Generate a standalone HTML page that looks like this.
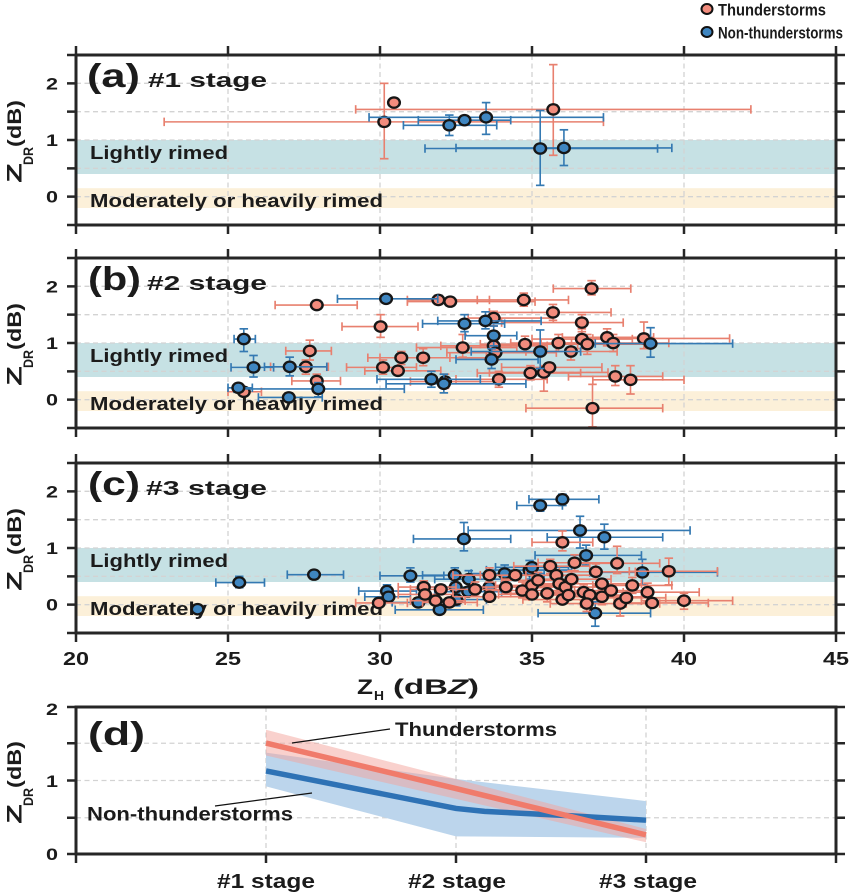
<!DOCTYPE html>
<html><head><meta charset="utf-8"><style>
html,body{margin:0;padding:0;background:#fff;}
svg{display:block;}
.t{font-family:"Liberation Sans",Arial,Helvetica,sans-serif;font-weight:bold;fill:#1b1b1b;}
.es{fill:none;stroke:#e8806f;stroke-width:1.6;}
.eb{fill:none;stroke:#3479b2;stroke-width:1.6;}
</style></head><body>
<svg width="850" height="896" viewBox="0 0 850 896" xmlns="http://www.w3.org/2000/svg">
<defs>
 <g id="bands">
  <rect x="76" y="85" width="760" height="34" fill="#c6e1e4"/>
  <rect x="76" y="133.2" width="760" height="19.8" fill="#fcf0d9"/>
 </g>
 <g id="grid" stroke="#d3d3d3" stroke-width="1.3" stroke-dasharray="5 3.5" fill="none">
  <path d="M76 28.33H836M76 56.67H836M76 85H836M76 113.33H836M76 141.67H836M228 0V170M380 0V170M532 0V170M684 0V170"/>
 </g>
 <g id="frame" fill="none" stroke="#262626">
  <rect x="76" y="0" width="760" height="170" stroke-width="3"/>
  <path stroke-width="2.5" d="M76 -9V0M228 -9V0M380 -9V0M532 -9V0M684 -9V0M836 -9V0M76 170V179M228 170V179M380 170V179M532 170V179M684 170V179M836 170V179M67 0H76M67 28.33H76M67 56.67H76M67 85H76M67 113.33H76M67 141.67H76M67 170H76M836 0H845M836 28.33H845M836 56.67H845M836 85H845M836 113.33H845M836 141.67H845M836 170H845"/>
 </g>
 <g id="ds"><ellipse rx="0.232" ry="0.111" fill="#161616"/><ellipse rx="0.152" ry="0.071" fill="#f28c7d"/></g>
 <g id="db"><ellipse rx="0.232" ry="0.111" fill="#161616"/><ellipse rx="0.152" ry="0.071" fill="#3f86c1"/></g>
 <marker id="cvs" markerUnits="userSpaceOnUse" orient="0" refX="0" refY="0" style="overflow:visible"><path d="M0 -0.075V0.075" stroke="#e8806f" stroke-width="0.055" fill="none"/></marker>
 <marker id="chs" markerUnits="userSpaceOnUse" orient="0" refX="0" refY="0" style="overflow:visible"><path d="M-0.14 0H0.14" stroke="#e8806f" stroke-width="0.03" fill="none"/></marker>
 <marker id="cvb" markerUnits="userSpaceOnUse" orient="0" refX="0" refY="0" style="overflow:visible"><path d="M0 -0.075V0.075" stroke="#3479b2" stroke-width="0.055" fill="none"/></marker>
 <marker id="chb" markerUnits="userSpaceOnUse" orient="0" refX="0" refY="0" style="overflow:visible"><path d="M-0.14 0H0.14" stroke="#3479b2" stroke-width="0.03" fill="none"/></marker>
</defs>

<!-- Legend -->
<ellipse cx="707" cy="9" rx="5.5" ry="5" fill="#f28c7d" stroke="#111" stroke-width="2"/>
<ellipse cx="707" cy="32" rx="5.5" ry="5" fill="#3f86c1" stroke="#111" stroke-width="2"/>
<text class="t" x="718" y="15.5" font-size="17" textLength="108" lengthAdjust="spacingAndGlyphs">Thunderstorms</text>
<text class="t" x="718" y="38.5" font-size="17" textLength="125" lengthAdjust="spacingAndGlyphs">Non-thunderstorms</text>

<!-- ================= Panel A ================= -->
<g transform="translate(0,55)"><use href="#bands"/><use href="#grid"/></g>
<text class="t" x="90" y="159" font-size="18" textLength="138" lengthAdjust="spacingAndGlyphs">Lightly rimed</text>
<text class="t" x="90" y="207" font-size="18" textLength="293" lengthAdjust="spacingAndGlyphs">Moderately or heavily rimed</text>
<g transform="matrix(30.4 0 0 -56.67 -532 196.675)">
 <path class="es" vector-effect="non-scaling-stroke" marker-start="url(#cvs)" marker-mid="url(#cvs)" marker-end="url(#cvs)" d="M22.9 1.32H37.35M29.2 1.54H42.2"/>
 <path class="es" vector-effect="non-scaling-stroke" marker-start="url(#chs)" marker-mid="url(#chs)" marker-end="url(#chs)" d="M30.14 0.67V2M35.7 0.73V2.33"/>
 <use href="#ds" x="30.14" y="1.32"/><use href="#ds" x="30.46" y="1.66"/><use href="#ds" x="35.7" y="1.54"/>
 <path class="eb" vector-effect="non-scaling-stroke" marker-start="url(#cvb)" marker-mid="url(#cvb)" marker-end="url(#cvb)" d="M30.77 1.26H33.84M31.26 1.35H34.3M29.64 1.4H37.35M31.48 0.85H39.13M32.5 0.86H39.6"/>
 <path class="eb" vector-effect="non-scaling-stroke" marker-start="url(#chb)" marker-mid="url(#chb)" marker-end="url(#chb)" d="M32.28 1.08V1.44M33.49 1.1V1.66M35.27 0.2V1.52M36.05 0.55V1.18"/>
 <use href="#db" x="32.28" y="1.26"/><use href="#db" x="32.78" y="1.35"/><use href="#db" x="33.49" y="1.4"/><use href="#db" x="35.27" y="0.85"/><use href="#db" x="36.05" y="0.86"/>
</g>
<g transform="translate(0,55)"><use href="#frame"/></g>
<text class="t" x="87" y="87" font-size="33" textLength="53" lengthAdjust="spacingAndGlyphs">(a)</text>
<text class="t" x="148" y="87" font-size="20" textLength="119" lengthAdjust="spacingAndGlyphs">#1 stage</text>
<text class="t" x="52" y="89.5" font-size="17" text-anchor="middle" textLength="12" lengthAdjust="spacingAndGlyphs">2</text>
<text class="t" x="52" y="146" font-size="17" text-anchor="middle" textLength="12" lengthAdjust="spacingAndGlyphs">1</text>
<text class="t" x="52" y="202.7" font-size="17" text-anchor="middle" textLength="12" lengthAdjust="spacingAndGlyphs">0</text>
<text class="t" transform="translate(21.7,183) rotate(-90)" font-size="21" textLength="20" lengthAdjust="spacingAndGlyphs">Z</text>
<text class="t" transform="translate(33,165) rotate(-90)" font-size="14" textLength="18" lengthAdjust="spacingAndGlyphs">DR</text>
<text class="t" transform="translate(21,147) rotate(-90)" font-size="19" textLength="47" lengthAdjust="spacingAndGlyphs">(dB)</text>

<!-- ================= Panel B ================= -->
<g transform="translate(0,258)"><use href="#bands"/><use href="#grid"/></g>
<text class="t" x="90" y="362" font-size="18" textLength="138" lengthAdjust="spacingAndGlyphs">Lightly rimed</text>
<text class="t" x="90" y="410" font-size="18" textLength="293" lengthAdjust="spacingAndGlyphs">Moderately or heavily rimed</text>
<g transform="matrix(30.4 0 0 -56.67 -532 399.675)">
 <path class="es" vector-effect="non-scaling-stroke" marker-start="url(#cvs)" marker-mid="url(#cvs)" marker-end="url(#cvs)" d="M26.55 1.67H29.25M28.75 1.29H31.25M30.9 1.76H33.6M30.9 1.73H35.1M33.2 1.76H36.2M35.7 1.96H38.25M33.6 1.54H37.6M34 1.36H38M32.9 1.44H35.7M26.9 0.86H28.4M26.4 0.58H28.3M27.1 0.33H28.7M25 0.14H26.1M28.9 0.57H31.2M29.5 0.51H32M29.6 0.74H32.3M30 0.74H33.5M31.2 0.92H34.5M31 0.32H33.8M32 0.95H35.5M32.2 0.83H35.8M32.5 0.36H35.5M33.3 0.98H36.5M33.2 0.47H36.6M33.6 0.48H37.5M34 0.57H37.3M34.3 1H37.5M34.8 0.85H37.8M35 1.07H38.3M35.3 0.98H38.7M36 1.1H39M36.3 1H39.5M37 1.08H41.5M36.2 0.41H39.3M37 0.35H40M34.8 -0.15H39.3"/>
 <path class="es" vector-effect="non-scaling-stroke" marker-start="url(#chs)" marker-mid="url(#chs)" marker-end="url(#chs)" d="M27.92 1.6V1.75M30.02 1.1V1.5M31.92 1.68V1.84M34.73 1.65V1.88M36.96 1.85V2.1M35.69 1.4V1.68M36.64 1.2V1.5M33.74 1.3V1.56M27.69 0.7V1.05M27.56 0.45V0.7M27.92 0.2V0.45M30.1 0.45V0.7M30.7 0.62V0.85M31.42 0.6V0.9M32.72 0.75V1.15M32.14 0.2V0.45M33.74 0.8V1.1M33.8 0.7V0.95M33.91 0.22V0.5M34.77 0.85V1.12M34.95 0.35V0.6M35.39 0.15V0.6M35.87 0.85V1.15M36.28 0.7V1M36.64 0.9V1.25M36.82 0.8V1.15M37.47 0.95V1.25M37.67 0.85V1.15M38.68 0.9V1.37M37.74 0.25V0.6M38.24 0.1V0.6M36.99 -0.48V0.27"/>
 <use href="#ds" x="27.92" y="1.67"/><use href="#ds" x="30.02" y="1.29"/><use href="#ds" x="31.92" y="1.76"/><use href="#ds" x="32.31" y="1.73"/><use href="#ds" x="34.73" y="1.76"/><use href="#ds" x="36.96" y="1.96"/><use href="#ds" x="35.69" y="1.54"/><use href="#ds" x="36.64" y="1.36"/><use href="#ds" x="33.74" y="1.44"/><use href="#ds" x="27.69" y="0.86"/><use href="#ds" x="27.56" y="0.58"/><use href="#ds" x="27.92" y="0.33"/><use href="#ds" x="25.52" y="0.14"/><use href="#ds" x="30.1" y="0.57"/><use href="#ds" x="30.59" y="0.51"/><use href="#ds" x="30.7" y="0.74"/><use href="#ds" x="31.42" y="0.74"/><use href="#ds" x="32.72" y="0.92"/><use href="#ds" x="32.14" y="0.32"/><use href="#ds" x="33.74" y="0.95"/><use href="#ds" x="33.8" y="0.83"/><use href="#ds" x="33.91" y="0.36"/><use href="#ds" x="34.77" y="0.98"/><use href="#ds" x="34.95" y="0.47"/><use href="#ds" x="35.39" y="0.48"/><use href="#ds" x="35.57" y="0.57"/><use href="#ds" x="35.87" y="1"/><use href="#ds" x="36.28" y="0.85"/><use href="#ds" x="36.64" y="1.07"/><use href="#ds" x="36.82" y="0.98"/><use href="#ds" x="37.47" y="1.1"/><use href="#ds" x="37.67" y="1"/><use href="#ds" x="38.68" y="1.08"/><use href="#ds" x="37.74" y="0.41"/><use href="#ds" x="38.24" y="0.35"/><use href="#ds" x="36.99" y="-0.15"/>
 <path class="eb" vector-effect="non-scaling-stroke" marker-start="url(#cvb)" marker-mid="url(#cvb)" marker-end="url(#cvb)" d="M25.2 1.07H25.9M25.1 0.57H26.5M26.2 0.58H28.25M25 0.21H25.8M26 0.04H28.1M25.2 0.19H30.8M28.6 1.78H31.9M31.4 1.34H34.1M31.9 1.39H35.3M32.8 1.13H34.5M32.5 0.71H35.2M29.9 0.36H33.3M30.2 0.28H34.8M33 0.85H36.6M37.08 0.99H41.6"/>
 <path class="eb" vector-effect="non-scaling-stroke" marker-start="url(#chb)" marker-mid="url(#chb)" marker-end="url(#chb)" d="M25.52 0.85V1.25M25.84 0.4V0.78M27.03 0.42V0.75M27.97 0.05V0.3M32.78 1.2V1.5M33.47 1.25V1.55M33.74 0.95V1.3M33.67 0.55V0.9M31.69 0.22V0.5M32.1 0.12V0.45M35.27 0.55V1.23M38.9 0.75V1.27"/>
 <use href="#db" x="25.52" y="1.07"/><use href="#db" x="25.84" y="0.57"/><use href="#db" x="27.03" y="0.58"/><use href="#db" x="25.34" y="0.21"/><use href="#db" x="27" y="0.04"/><use href="#db" x="27.97" y="0.19"/><use href="#db" x="30.2" y="1.78"/><use href="#db" x="32.78" y="1.34"/><use href="#db" x="33.47" y="1.39"/><use href="#db" x="33.74" y="1.13"/><use href="#db" x="33.67" y="0.71"/><use href="#db" x="31.69" y="0.36"/><use href="#db" x="32.1" y="0.28"/><use href="#db" x="35.27" y="0.85"/><use href="#db" x="38.9" y="0.99"/>
</g>
<g transform="translate(0,258)"><use href="#frame"/></g>
<text class="t" x="88" y="290" font-size="33" textLength="53" lengthAdjust="spacingAndGlyphs">(b)</text>
<text class="t" x="147" y="290" font-size="20" textLength="120" lengthAdjust="spacingAndGlyphs">#2 stage</text>
<text class="t" x="52" y="292.5" font-size="17" text-anchor="middle" textLength="12" lengthAdjust="spacingAndGlyphs">2</text>
<text class="t" x="52" y="349" font-size="17" text-anchor="middle" textLength="12" lengthAdjust="spacingAndGlyphs">1</text>
<text class="t" x="52" y="405.7" font-size="17" text-anchor="middle" textLength="12" lengthAdjust="spacingAndGlyphs">0</text>
<text class="t" transform="translate(21.7,386) rotate(-90)" font-size="21" textLength="20" lengthAdjust="spacingAndGlyphs">Z</text>
<text class="t" transform="translate(33,368) rotate(-90)" font-size="14" textLength="18" lengthAdjust="spacingAndGlyphs">DR</text>
<text class="t" transform="translate(21,350) rotate(-90)" font-size="19" textLength="47" lengthAdjust="spacingAndGlyphs">(dB)</text>

<!-- ================= Panel C ================= -->
<g transform="translate(0,463)"><use href="#bands"/><use href="#grid"/></g>
<text class="t" x="90" y="567" font-size="18" textLength="138" lengthAdjust="spacingAndGlyphs">Lightly rimed</text>
<text class="t" x="90" y="615" font-size="18" textLength="293" lengthAdjust="spacingAndGlyphs">Moderately or heavily rimed</text>
<g transform="matrix(30.4 0 0 -56.67 -532 604.675)">
 <path class="eb" vector-effect="non-scaling-stroke" marker-start="url(#cvb)" marker-mid="url(#cvb)" marker-end="url(#cvb)" d="M24.6 0.39H26.2M26.95 0.53H28.8M30 0.51H32.1M29.3 0.24H31.2M29.5 0.14H31M30.4 0.04H32.2M30.5 -0.09H33.4M31.1 1.16H34.3M31.4 0.52H33.6M31.5 0.31H33.5M31.5 0.09H33.5M31.8 0.45H34M31.8 0.23H34M32.5 0.31H34.8M33 0.55H35.4M33.5 0.61H36.3M33.8 0.66H36.2M34.5 1.75H36M34.9 1.86H37.2M32.9 1.31H40.2M35.5 1.19H39.3M35.1 0.87H38.6M36.9 0.57H41.1M35.2 -0.15H38.9"/>
 <path class="eb" vector-effect="non-scaling-stroke" marker-start="url(#chb)" marker-mid="url(#chb)" marker-end="url(#chb)" d="M25.37 0.3V0.5M27.83 0.45V0.6M31 0.4V0.65M30.23 0.1V0.35M32.76 0.95V1.45M32.46 0.4V0.65M32.51 -0.02V0.2M32.92 0.3V0.6M33.6 0.18V0.45M34.1 0.4V0.7M34.92 0.45V0.78M35.27 1.65V1.85M36 1.75V1.95M36.58 1V1.56M37.38 0.98V1.42M36.78 0.7V1.05M38.63 0.35V0.8M37.08 -0.38V0.05"/>
 <use href="#db" x="24" y="-0.08"/><use href="#db" x="25.37" y="0.39"/><use href="#db" x="27.83" y="0.53"/><use href="#db" x="31" y="0.51"/><use href="#db" x="30.23" y="0.24"/><use href="#db" x="30.28" y="0.14"/><use href="#db" x="31.26" y="0.04"/><use href="#db" x="31.96" y="-0.09"/><use href="#db" x="32.76" y="1.16"/><use href="#db" x="32.46" y="0.52"/><use href="#db" x="32.49" y="0.31"/><use href="#db" x="32.51" y="0.09"/><use href="#db" x="32.92" y="0.45"/><use href="#db" x="32.9" y="0.23"/><use href="#db" x="33.6" y="0.31"/><use href="#db" x="34.1" y="0.55"/><use href="#db" x="34.92" y="0.61"/><use href="#db" x="35" y="0.66"/><use href="#db" x="35.27" y="1.75"/><use href="#db" x="36" y="1.86"/><use href="#db" x="36.58" y="1.31"/><use href="#db" x="37.38" y="1.19"/><use href="#db" x="36.78" y="0.87"/><use href="#db" x="38.63" y="0.57"/><use href="#db" x="37.08" y="-0.15"/>
 <path class="es" vector-effect="non-scaling-stroke" marker-start="url(#cvs)" marker-mid="url(#cvs)" marker-end="url(#cvs)" d="M29.2 0.03H30.9M30.6 0.31H32.5M30.6 0.18H32.4M31 0.07H32.8M31.4 0.04H33.2M31 0.27H33.2M32 0.27H34.3M32.4 0.52H34.8M32.4 0.14H34.9M33 0.31H35.4M33.3 0.52H35.6M33.5 0.25H35.9M33.8 0.34H36.2M34 0.43H36.5M33.9 0.18H36.3M34.3 0.2H36.8M34.4 0.68H36.9M34.5 0.52H37.1M34.7 0.37H37.2M34.7 0.09H37.3M34.9 0.31H37.4M35 1.1H37M35 0.45H37.6M35.2 0.74H37.7M35 0.17H37.5M35.4 0.22H38M35.6 0.17H38.2M35.6 0.02H38.1M35.9 0.58H38.4M36 0.37H38.6M36 0.14H38.6M36.4 0.25H38.9M36.5 0.73H39.2M36.6 0.02H39.2M36.9 0.12H39.4M37 0.34H39.6M37.5 0.22H40.5M37.7 0.03H40.8M38.2 0.59H41.1M38.6 0.07H41.6"/>
 <path class="es" vector-effect="non-scaling-stroke" marker-start="url(#chs)" marker-mid="url(#chs)" marker-end="url(#chs)" d="M31.44 0.2V0.42M33.13 0.15V0.4M33.6 0.4V0.65M34.14 0.2V0.45M34.68 0.12V0.4M35.2 0.3V0.57M35.5 0.05V0.35M35.6 0.55V0.8M35.9 0.25V0.5M36 0.95V1.3M36.3 0.32V0.6M36.4 0.6V0.88M36.7 0.08V0.35M36.8 -0.12V0.15M37.1 0.45V0.72M37.3 0V0.28M37.8 0.55V1.03M37.9 -0.2V0.15M38.3 0.2V0.48M38.8 0.05V0.38M39.5 0.35V0.82M40 -0.08V0.2"/>
 <use href="#ds" x="29.96" y="0.03"/><use href="#ds" x="31.44" y="0.31"/><use href="#ds" x="31.48" y="0.18"/><use href="#ds" x="31.83" y="0.07"/><use href="#ds" x="32.28" y="0.04"/><use href="#ds" x="32" y="0.27"/><use href="#ds" x="33.13" y="0.27"/><use href="#ds" x="33.6" y="0.52"/><use href="#ds" x="33.6" y="0.14"/><use href="#ds" x="34.14" y="0.31"/><use href="#ds" x="34.45" y="0.52"/><use href="#ds" x="34.68" y="0.25"/><use href="#ds" x="35" y="0.34"/><use href="#ds" x="35.2" y="0.43"/><use href="#ds" x="35" y="0.18"/><use href="#ds" x="35.5" y="0.2"/><use href="#ds" x="35.6" y="0.68"/><use href="#ds" x="35.8" y="0.52"/><use href="#ds" x="35.9" y="0.37"/><use href="#ds" x="36" y="0.09"/><use href="#ds" x="36.1" y="0.31"/><use href="#ds" x="36" y="1.1"/><use href="#ds" x="36.3" y="0.45"/><use href="#ds" x="36.4" y="0.74"/><use href="#ds" x="36.2" y="0.17"/><use href="#ds" x="36.7" y="0.22"/><use href="#ds" x="36.9" y="0.17"/><use href="#ds" x="36.8" y="0.02"/><use href="#ds" x="37.1" y="0.58"/><use href="#ds" x="37.3" y="0.37"/><use href="#ds" x="37.3" y="0.14"/><use href="#ds" x="37.6" y="0.25"/><use href="#ds" x="37.8" y="0.73"/><use href="#ds" x="37.9" y="0.02"/><use href="#ds" x="38.1" y="0.12"/><use href="#ds" x="38.3" y="0.34"/><use href="#ds" x="38.8" y="0.22"/><use href="#ds" x="38.95" y="0.03"/><use href="#ds" x="39.5" y="0.59"/><use href="#ds" x="40" y="0.07"/>
</g>
<g transform="translate(0,463)"><use href="#frame"/></g>
<text class="t" x="88" y="495" font-size="33" textLength="52" lengthAdjust="spacingAndGlyphs">(c)</text>
<text class="t" x="146" y="495" font-size="20" textLength="121" lengthAdjust="spacingAndGlyphs">#3 stage</text>
<text class="t" x="52" y="497.3" font-size="17" text-anchor="middle" textLength="12" lengthAdjust="spacingAndGlyphs">2</text>
<text class="t" x="52" y="554" font-size="17" text-anchor="middle" textLength="12" lengthAdjust="spacingAndGlyphs">1</text>
<text class="t" x="52" y="610.7" font-size="17" text-anchor="middle" textLength="12" lengthAdjust="spacingAndGlyphs">0</text>
<text class="t" transform="translate(21.7,591) rotate(-90)" font-size="21" textLength="20" lengthAdjust="spacingAndGlyphs">Z</text>
<text class="t" transform="translate(33,573) rotate(-90)" font-size="14" textLength="18" lengthAdjust="spacingAndGlyphs">DR</text>
<text class="t" transform="translate(21,555) rotate(-90)" font-size="19" textLength="47" lengthAdjust="spacingAndGlyphs">(dB)</text>

<!-- X tick labels -->
<text class="t" x="76" y="665" font-size="18" text-anchor="middle" textLength="26" lengthAdjust="spacingAndGlyphs">20</text>
<text class="t" x="228" y="665" font-size="18" text-anchor="middle" textLength="26" lengthAdjust="spacingAndGlyphs">25</text>
<text class="t" x="380" y="665" font-size="18" text-anchor="middle" textLength="26" lengthAdjust="spacingAndGlyphs">30</text>
<text class="t" x="532" y="665" font-size="18" text-anchor="middle" textLength="26" lengthAdjust="spacingAndGlyphs">35</text>
<text class="t" x="684" y="665" font-size="18" text-anchor="middle" textLength="26" lengthAdjust="spacingAndGlyphs">40</text>
<text class="t" x="836" y="665" font-size="18" text-anchor="middle" textLength="26" lengthAdjust="spacingAndGlyphs">45</text>
<!-- X title -->
<text class="t" x="357" y="694" font-size="21" textLength="16" lengthAdjust="spacingAndGlyphs">Z</text>
<text class="t" x="374" y="700" font-size="13" textLength="10" lengthAdjust="spacingAndGlyphs">H</text>
<text class="t" x="393" y="694" font-size="21" textLength="86" lengthAdjust="spacingAndGlyphs">(dB<tspan font-style="italic">Z</tspan>)</text>

<!-- ================= Panel D ================= -->
<g stroke="#d3d3d3" stroke-width="1.3" stroke-dasharray="5 3.5" fill="none">
 <path d="M76 743.25H836M76 780.5H836M76 817.75H836M266 707V854M456 707V854M646 707V854"/>
</g>
<g transform="matrix(190 0 0 -73.5 76 854)">
 <polygon points="1,1.38 2,1.02 3,0.72 3,0.22 2,0.24 1,0.92" fill="#bcd5ec"/>
 <polygon points="1,1.69 2,1.02 3,0.34 3,0.16 2,0.75 1,1.34" fill="#f4a49b" fill-opacity="0.5"/>
 <polyline points="1,1.13 2,0.62 2.15,0.58 2.6,0.52 3,0.46" fill="none" stroke="#2e72b5" stroke-width="5.5" vector-effect="non-scaling-stroke"/>
 <polyline points="1,1.51 2,0.89 3,0.26" fill="none" stroke="#f07b6b" stroke-width="5.5" vector-effect="non-scaling-stroke"/>
</g>
<path d="M292 743L390 729M215 806L312 793" stroke="#111" stroke-width="1.2" fill="none"/>
<text class="t" x="395" y="736" font-size="19.5" textLength="162" lengthAdjust="spacingAndGlyphs">Thunderstorms</text>
<text class="t" x="87" y="820.5" font-size="19.5" textLength="206" lengthAdjust="spacingAndGlyphs">Non-thunderstorms</text>
<g fill="none" stroke="#262626">
 <rect x="76" y="707" width="760" height="147" stroke-width="3"/>
 <path stroke-width="2.5" d="M67 707H76M67 743.25H76M67 780.5H76M67 817.75H76M67 854H76M836 707H845M836 743.25H845M836 780.5H845M836 817.75H845M836 854H845M76 854V863M266 854V863M456 854V863M646 854V863M836 854V863"/>
</g>
<text class="t" x="88" y="745" font-size="33" textLength="57" lengthAdjust="spacingAndGlyphs">(d)</text>
<text class="t" x="52" y="715" font-size="17" text-anchor="middle" textLength="12" lengthAdjust="spacingAndGlyphs">2</text>
<text class="t" x="52" y="787" font-size="17" text-anchor="middle" textLength="12" lengthAdjust="spacingAndGlyphs">1</text>
<text class="t" x="52" y="860" font-size="17" text-anchor="middle" textLength="12" lengthAdjust="spacingAndGlyphs">0</text>
<text class="t" transform="translate(21.7,824) rotate(-90)" font-size="21" textLength="20" lengthAdjust="spacingAndGlyphs">Z</text>
<text class="t" transform="translate(33,806) rotate(-90)" font-size="14" textLength="18" lengthAdjust="spacingAndGlyphs">DR</text>
<text class="t" transform="translate(21,788) rotate(-90)" font-size="19" textLength="47" lengthAdjust="spacingAndGlyphs">(dB)</text>
<text class="t" x="266" y="888" font-size="20.5" text-anchor="middle" textLength="98" lengthAdjust="spacingAndGlyphs">#1 stage</text>
<text class="t" x="457" y="888" font-size="20.5" text-anchor="middle" textLength="98" lengthAdjust="spacingAndGlyphs">#2 stage</text>
<text class="t" x="648" y="888" font-size="20.5" text-anchor="middle" textLength="98" lengthAdjust="spacingAndGlyphs">#3 stage</text>
</svg>
</body></html>
